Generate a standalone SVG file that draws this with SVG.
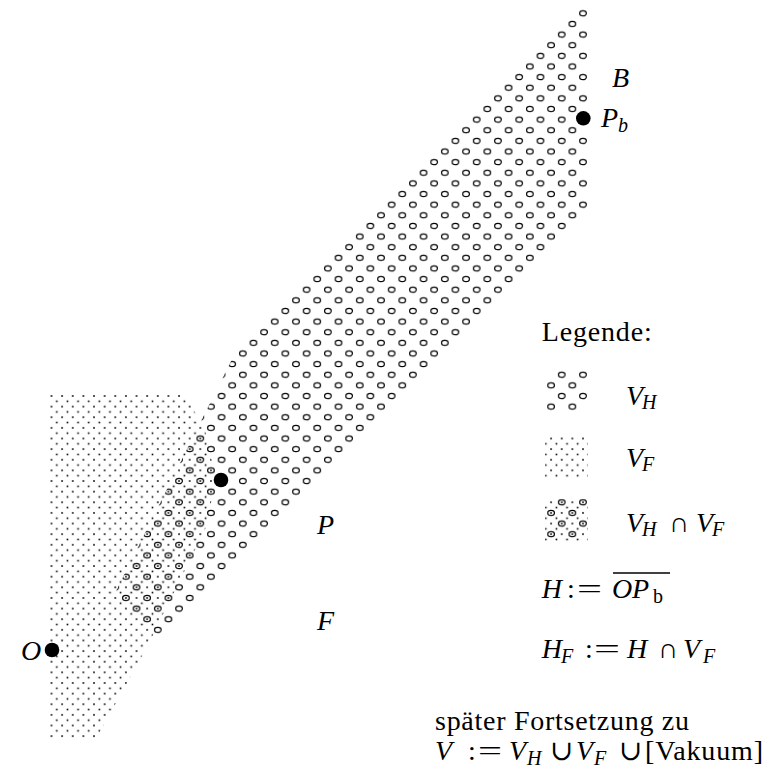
<svg xmlns="http://www.w3.org/2000/svg" width="765" height="771" viewBox="0 0 765 771">
<style>
.t{font-family:"Liberation Serif","DejaVu Serif",serif;font-size:28px;fill:#000}
.i{font-style:italic}
.s{font-size:20px}
.pt{fill:#000}
</style>
<defs>
<pattern id="pc" patternUnits="userSpaceOnUse" x="583" y="13.3" width="21.26" height="21.26">
<g fill="none" stroke="#000" stroke-width="1.2">
<ellipse cx="0" cy="0" rx="3.3" ry="2.6"/>
<ellipse cx="21.26" cy="0" rx="3.3" ry="2.6"/>
<ellipse cx="0" cy="21.26" rx="3.3" ry="2.6"/>
<ellipse cx="21.26" cy="21.26" rx="3.3" ry="2.6"/>
<ellipse cx="10.63" cy="10.63" rx="3.3" ry="2.6"/>
</g>
</pattern>
<pattern id="pd" patternUnits="userSpaceOnUse" x="583" y="13.3" width="10.63" height="10.63">
<g fill="#000">
<rect x="-0.8" y="-0.8" width="1.6" height="1.6"/>
<rect x="9.83" y="-0.8" width="1.6" height="1.6"/>
<rect x="-0.8" y="9.83" width="1.6" height="1.6"/>
<rect x="9.83" y="9.83" width="1.6" height="1.6"/>
<rect x="4.515" y="4.515" width="1.6" height="1.6"/>
</g>
</pattern>
</defs>
<rect width="765" height="771" fill="#fff"/>

<g id="VF">
<polygon points="49,393 184,393 205,430 216,480 205,530 180,580 148,645 96,739 49,739" fill="url(#pd)"/>
</g>
<g id="VH">
<polygon points="588,-3 588,210 158,640 113.7,595.7 238.2,346.8" fill="url(#pc)"/>
</g>

<g id="connectors"></g>

<g id="point-Pb">
<circle class="pt" cx="583.3" cy="118.3" r="7.3"/>
<text class="t i" x="601" y="127">P</text>
<text class="t i s" x="618" y="132">b</text>
</g>
<g id="label-B"><text class="t i" x="612" y="87">B</text></g>
<g id="point-P">
<circle class="pt" cx="221" cy="480" r="7.3"/>
</g>
<g id="label-P"><text class="t i" x="317" y="534">P</text></g>
<g id="label-F"><text class="t i" x="317" y="630">F</text></g>
<g id="point-O">
<circle class="pt" cx="52" cy="650" r="7.3"/>
<text class="t i" x="21" y="660">O</text>
</g>

<g id="legend">
<text class="t" x="541.7" y="341" textLength="110">Legende:</text>
<g id="legend-VH">
<rect x="545" y="369" width="43" height="42" fill="url(#pc)"/>
<text class="t i" x="626" y="405">V</text>
<text class="t i s" x="642" y="409">H</text>
</g>
<g id="legend-VF">
<rect x="545" y="436" width="43" height="42" fill="url(#pd)"/>
<text class="t i" x="626" y="467">V</text>
<text class="t i s" x="642" y="471">F</text>
</g>
<g id="legend-VHVF">
<rect x="545" y="499" width="43" height="42" fill="url(#pd)"/>
<rect x="545" y="499" width="43" height="42" fill="url(#pc)"/>
<text class="t i" x="626" y="532">V</text>
<text class="t i s" x="642" y="536">H</text>
<text class="t" x="669" y="532">∩</text>
<text class="t i" x="696" y="532">V</text>
<text class="t i s" x="712" y="536">F</text>
</g>
<g id="def-H">
<text class="t i" x="541.7" y="598">H</text>
<text class="t" x="567" y="598">:</text>
<text class="t" x="577" y="598" textLength="25" lengthAdjust="spacingAndGlyphs">=</text>
<text class="t i" x="612" y="598">O</text>
<text class="t i" x="632" y="598">P</text>
<text class="t s" x="653" y="603">b</text>
<line x1="613" y1="573" x2="670" y2="573" stroke="#000" stroke-width="1.3"/>
</g>
<g id="def-HF">
<text class="t i" x="541.7" y="658">H</text>
<text class="t i s" x="561" y="663">F</text>
<text class="t" x="585" y="658">:</text>
<text class="t" x="594" y="658" textLength="26" lengthAdjust="spacingAndGlyphs">=</text>
<text class="t i" x="627" y="658">H</text>
<text class="t" x="658" y="658">∩</text>
<text class="t i" x="683" y="658">V</text>
<text class="t i s" x="703" y="663">F</text>
</g>
<g id="note">
<text class="t" x="435" y="730" textLength="254">später Fortsetzung zu</text>
<text class="t i" x="435" y="760">V</text>
<text class="t" x="468" y="760">:</text>
<text class="t" x="478" y="760" textLength="24" lengthAdjust="spacingAndGlyphs">=</text>
<text class="t i" x="509" y="760">V</text>
<text class="t i s" x="527" y="765">H</text>
<text class="t" x="550" y="760">∪</text>
<text class="t i" x="576" y="760">V</text>
<text class="t i s" x="594" y="765">F</text>
<text class="t" x="619" y="760">∪</text>
<text class="t" x="645" y="760" textLength="118">[Vakuum]</text>
</g>
</g>
</svg>
